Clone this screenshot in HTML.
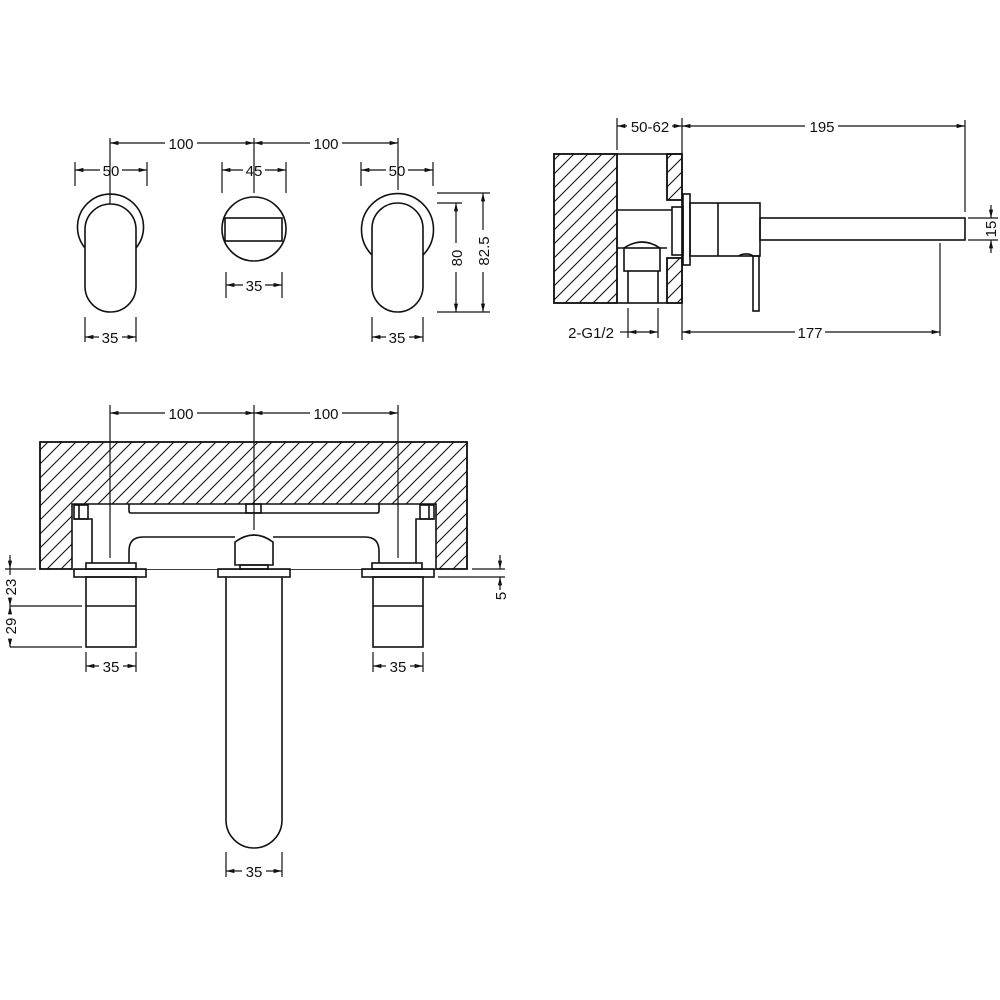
<!DOCTYPE html>
<html><head><meta charset="utf-8"><style>
html,body{margin:0;padding:0;background:#fff}
svg{display:block}
text{font-family:"Liberation Sans",sans-serif;font-size:15px;fill:#111}
</style></head><body>
<svg width="1000" height="1000" viewBox="0 0 1000 1000" xmlns="http://www.w3.org/2000/svg">
<defs>
<pattern id="h" patternUnits="userSpaceOnUse" width="14" height="14">
<path d="M-2,16 L16,-2 M-2,2 L2,-2 M12,16 L16,12" stroke="#111" stroke-width="1.1"/>
</pattern>
<marker id="a" viewBox="0 0 10 10" refX="10" refY="5" markerWidth="12" markerHeight="7" orient="auto-start-reverse"><path d="M0,2.5 L10,5 L0,7.5 z" fill="#111"/></marker>
</defs>
<g fill="none" stroke="#111" stroke-width="1.6">
<line x1="110" y1="138" x2="110" y2="238" stroke-width="1.2"/>
<line x1="254" y1="138" x2="254" y2="193" stroke-width="1.2"/>
<line x1="398" y1="138" x2="398" y2="190" stroke-width="1.2"/>
<line x1="110" y1="143" x2="165" y2="143" stroke-width="1.2" marker-start="url(#a)"/>
<line x1="197" y1="143" x2="254" y2="143" stroke-width="1.2" marker-end="url(#a)"/>
<line x1="254" y1="143" x2="310" y2="143" stroke-width="1.2" marker-start="url(#a)"/>
<line x1="342" y1="143" x2="398" y2="143" stroke-width="1.2" marker-end="url(#a)"/>
<line x1="75" y1="162" x2="75" y2="186" stroke-width="1.2"/><line x1="147" y1="162" x2="147" y2="186" stroke-width="1.2"/>
<line x1="75" y1="170" x2="100" y2="170" stroke-width="1.2" marker-start="url(#a)"/><line x1="122" y1="170" x2="147" y2="170" stroke-width="1.2" marker-end="url(#a)"/>
<line x1="222" y1="162" x2="222" y2="193" stroke-width="1.2"/><line x1="286" y1="162" x2="286" y2="193" stroke-width="1.2"/>
<line x1="222" y1="170" x2="243" y2="170" stroke-width="1.2" marker-start="url(#a)"/><line x1="265" y1="170" x2="286" y2="170" stroke-width="1.2" marker-end="url(#a)"/>
<line x1="361" y1="162" x2="361" y2="186" stroke-width="1.2"/><line x1="433" y1="162" x2="433" y2="186" stroke-width="1.2"/>
<line x1="361" y1="170" x2="386" y2="170" stroke-width="1.2" marker-start="url(#a)"/><line x1="408" y1="170" x2="433" y2="170" stroke-width="1.2" marker-end="url(#a)"/>
<path d="M85,248 A33,33 0 1 1 136,248"/>
<rect x="85" y="204" width="51" height="108" rx="25.5" fill="#fff"/>
<circle cx="254" cy="229" r="32"/>
<rect x="225" y="218" width="57" height="23"/>
<line x1="226" y1="272" x2="226" y2="298" stroke-width="1.2"/><line x1="282" y1="272" x2="282" y2="298" stroke-width="1.2"/>
<line x1="226" y1="285" x2="243" y2="285" stroke-width="1.2" marker-start="url(#a)"/><line x1="265" y1="285" x2="282" y2="285" stroke-width="1.2" marker-end="url(#a)"/>
<path d="M372,255 A36,36 0 1 1 423,255"/>
<rect x="372" y="203" width="51" height="109" rx="25.5" fill="#fff"/>
<line x1="437" y1="193" x2="490" y2="193" stroke-width="1.2"/>
<line x1="437" y1="203" x2="462" y2="203" stroke-width="1.2"/>
<line x1="437" y1="312" x2="490" y2="312" stroke-width="1.2"/>
<line x1="456" y1="203" x2="456" y2="243" stroke-width="1.2" marker-start="url(#a)"/><line x1="456" y1="272" x2="456" y2="312" stroke-width="1.2" marker-end="url(#a)"/>
<line x1="483" y1="193" x2="483" y2="230" stroke-width="1.2" marker-start="url(#a)"/><line x1="483" y1="272" x2="483" y2="312" stroke-width="1.2" marker-end="url(#a)"/>
<line x1="85" y1="317" x2="85" y2="342" stroke-width="1.2"/><line x1="136" y1="317" x2="136" y2="342" stroke-width="1.2"/>
<line x1="85" y1="337" x2="99" y2="337" stroke-width="1.2" marker-start="url(#a)"/><line x1="122" y1="337" x2="136" y2="337" stroke-width="1.2" marker-end="url(#a)"/>
<line x1="372" y1="317" x2="372" y2="342" stroke-width="1.2"/><line x1="423" y1="317" x2="423" y2="342" stroke-width="1.2"/>
<line x1="372" y1="337" x2="386" y2="337" stroke-width="1.2" marker-start="url(#a)"/><line x1="409" y1="337" x2="423" y2="337" stroke-width="1.2" marker-end="url(#a)"/>

<rect x="554" y="154" width="63" height="149" fill="url(#h)"/>
<rect x="554" y="154" width="128" height="149"/>
<line x1="617" y1="154" x2="617" y2="303"/>
<rect x="667" y="154" width="15" height="46" fill="url(#h)"/>
<rect x="667" y="258" width="15" height="45" fill="url(#h)"/>
<polyline points="682,154 667,154 667,200 682,200"/>
<polyline points="682,258 667,258 667,303"/>
<line x1="617" y1="210" x2="672" y2="210"/>
<rect x="672" y="207" width="11" height="48"/>
<rect x="683" y="194" width="7" height="71"/>
<rect x="690" y="203" width="70" height="53"/>
<line x1="718" y1="203" x2="718" y2="256"/>
<rect x="760" y="218" width="205" height="22"/>
<rect x="753" y="256" width="6" height="55"/>
<path d="M739,256 A8,4 0 0 1 753,256"/>
<path d="M617,248 L624,248 Q642,236 660,248 L667,248"/>
<rect x="624" y="248" width="36" height="23"/>
<line x1="628" y1="271" x2="628" y2="303"/><line x1="658" y1="271" x2="658" y2="303"/>
<line x1="617" y1="118" x2="617" y2="150" stroke-width="1.2"/>
<line x1="682" y1="118" x2="682" y2="340" stroke-width="1.2"/>
<line x1="965" y1="120" x2="965" y2="212" stroke-width="1.2"/>
<line x1="617" y1="126" x2="627" y2="126" stroke-width="1.2" marker-start="url(#a)"/><line x1="672" y1="126" x2="682" y2="126" stroke-width="1.2" marker-end="url(#a)"/>
<line x1="682" y1="126" x2="805" y2="126" stroke-width="1.2" marker-start="url(#a)"/><line x1="838" y1="126" x2="965" y2="126" stroke-width="1.2" marker-end="url(#a)"/>
<line x1="628" y1="308" x2="628" y2="338" stroke-width="1.2"/><line x1="658" y1="308" x2="658" y2="338" stroke-width="1.2"/>
<line x1="628" y1="332" x2="658" y2="332" stroke-width="1.2" marker-start="url(#a)" marker-end="url(#a)"/>
<line x1="620" y1="332" x2="628" y2="332" stroke-width="1.2"/>
<line x1="940" y1="243" x2="940" y2="336" stroke-width="1.2"/>
<line x1="682" y1="332" x2="795" y2="332" stroke-width="1.2" marker-start="url(#a)"/><line x1="825" y1="332" x2="940" y2="332" stroke-width="1.2" marker-end="url(#a)"/>
<line x1="968" y1="218" x2="998" y2="218" stroke-width="1.2"/><line x1="968" y1="240" x2="998" y2="240" stroke-width="1.2"/>
<line x1="991" y1="205" x2="991" y2="218" stroke-width="1.2" marker-end="url(#a)"/><line x1="991" y1="253" x2="991" y2="240" stroke-width="1.2" marker-end="url(#a)"/>

<rect x="40" y="442" width="427" height="127" fill="url(#h)"/>
<rect x="72" y="504" width="364" height="65" fill="#fff" stroke="none"/>
<path d="M40,442 H467 V569 H436 V504 H72 V569 H40 Z"/>
<path d="M129,504 V511 Q129,513 131,513 H377 Q379,513 379,511 V504"/>
<rect x="246" y="504" width="15" height="9"/>
<rect x="74" y="505" width="14" height="14"/><line x1="79" y1="505" x2="79" y2="519"/>
<polyline points="74,519 92,519 92,563"/>
<rect x="420" y="505" width="14" height="14"/><line x1="429" y1="505" x2="429" y2="519"/>
<polyline points="434,519 416,519 416,563"/>
<path d="M129,563 V551 Q129,537 143,537 H235 M273,537 H365 Q379,537 379,551 V563"/>
<path d="M235,565 V542 Q254,528 273,542 V565 Z"/>
<rect x="240" y="565" width="28" height="4"/>
<rect x="86" y="563" width="50" height="6"/>
<rect x="372" y="563" width="50" height="6"/>
<rect x="74" y="569" width="72" height="8"/>
<rect x="218" y="569" width="72" height="8"/>
<rect x="362" y="569" width="72" height="8"/>
<rect x="86" y="577" width="50" height="70"/><line x1="86" y1="606" x2="136" y2="606"/>
<rect x="373" y="577" width="50" height="70"/><line x1="373" y1="606" x2="423" y2="606"/>
<path d="M226,577 V820 A28,28 0 0 0 282,820 V577"/>
<line x1="110" y1="405" x2="110" y2="558" stroke-width="1.2"/>
<line x1="254" y1="405" x2="254" y2="530" stroke-width="1.2"/>
<line x1="398" y1="405" x2="398" y2="558" stroke-width="1.2"/>
<line x1="110" y1="413" x2="165" y2="413" stroke-width="1.2" marker-start="url(#a)"/><line x1="197" y1="413" x2="254" y2="413" stroke-width="1.2" marker-end="url(#a)"/>
<line x1="254" y1="413" x2="310" y2="413" stroke-width="1.2" marker-start="url(#a)"/><line x1="342" y1="413" x2="398" y2="413" stroke-width="1.2" marker-end="url(#a)"/>
<line x1="5" y1="569" x2="36" y2="569" stroke-width="1.2"/>
<line x1="10" y1="606" x2="82" y2="606" stroke-width="1.2"/>
<line x1="10" y1="647" x2="82" y2="647" stroke-width="1.2"/>
<line x1="10" y1="555" x2="10" y2="569" stroke-width="1.2" marker-end="url(#a)"/>
<line x1="10" y1="569" x2="10" y2="575" stroke-width="1.2"/>
<line x1="10" y1="598" x2="10" y2="606" stroke-width="1.2" marker-end="url(#a)"/>
<line x1="10" y1="614" x2="10" y2="606" stroke-width="1.2" marker-end="url(#a)"/>
<line x1="10" y1="639" x2="10" y2="647" stroke-width="1.2" marker-end="url(#a)"/>
<line x1="472" y1="569" x2="505" y2="569" stroke-width="1.2"/>
<line x1="438" y1="577" x2="505" y2="577" stroke-width="1.2"/>
<line x1="500" y1="555" x2="500" y2="569" stroke-width="1.2" marker-end="url(#a)"/>
<line x1="500" y1="590" x2="500" y2="577" stroke-width="1.2" marker-end="url(#a)"/>
<line x1="86" y1="652" x2="86" y2="672" stroke-width="1.2"/><line x1="136" y1="652" x2="136" y2="672" stroke-width="1.2"/>
<line x1="86" y1="666" x2="99" y2="666" stroke-width="1.2" marker-start="url(#a)"/><line x1="123" y1="666" x2="136" y2="666" stroke-width="1.2" marker-end="url(#a)"/>
<line x1="373" y1="652" x2="373" y2="672" stroke-width="1.2"/><line x1="423" y1="652" x2="423" y2="672" stroke-width="1.2"/>
<line x1="373" y1="666" x2="386" y2="666" stroke-width="1.2" marker-start="url(#a)"/><line x1="410" y1="666" x2="423" y2="666" stroke-width="1.2" marker-end="url(#a)"/>
<line x1="226" y1="852" x2="226" y2="877" stroke-width="1.2"/><line x1="282" y1="852" x2="282" y2="877" stroke-width="1.2"/>
<line x1="226" y1="871" x2="242" y2="871" stroke-width="1.2" marker-start="url(#a)"/><line x1="266" y1="871" x2="282" y2="871" stroke-width="1.2" marker-end="url(#a)"/>
</g>
<g text-anchor="middle">
<text x="181" y="149">100</text><text x="326" y="149">100</text>
<text x="111" y="176">50</text><text x="254" y="176">45</text><text x="397" y="176">50</text>
<text x="254" y="291">35</text>
<text x="110" y="343">35</text><text x="397" y="343">35</text>
<text x="462" y="258" transform="rotate(-90 462 258)">80</text>
<text x="489" y="251" transform="rotate(-90 489 251)">82.5</text>
<text x="650" y="132">50-62</text><text x="822" y="132">195</text>
<text x="591" y="338">2-G1/2</text><text x="810" y="338">177</text>
<text x="996" y="229" transform="rotate(-90 996 229)">15</text>
<text x="181" y="419">100</text><text x="326" y="419">100</text>
<text x="16" y="587" transform="rotate(-90 16 587)">23</text>
<text x="16" y="626" transform="rotate(-90 16 626)">29</text>
<text x="506" y="596" transform="rotate(-90 506 596)">5</text>
<text x="111" y="672">35</text><text x="398" y="672">35</text>
<text x="254" y="877">35</text>
</g>
</svg>
</body></html>
